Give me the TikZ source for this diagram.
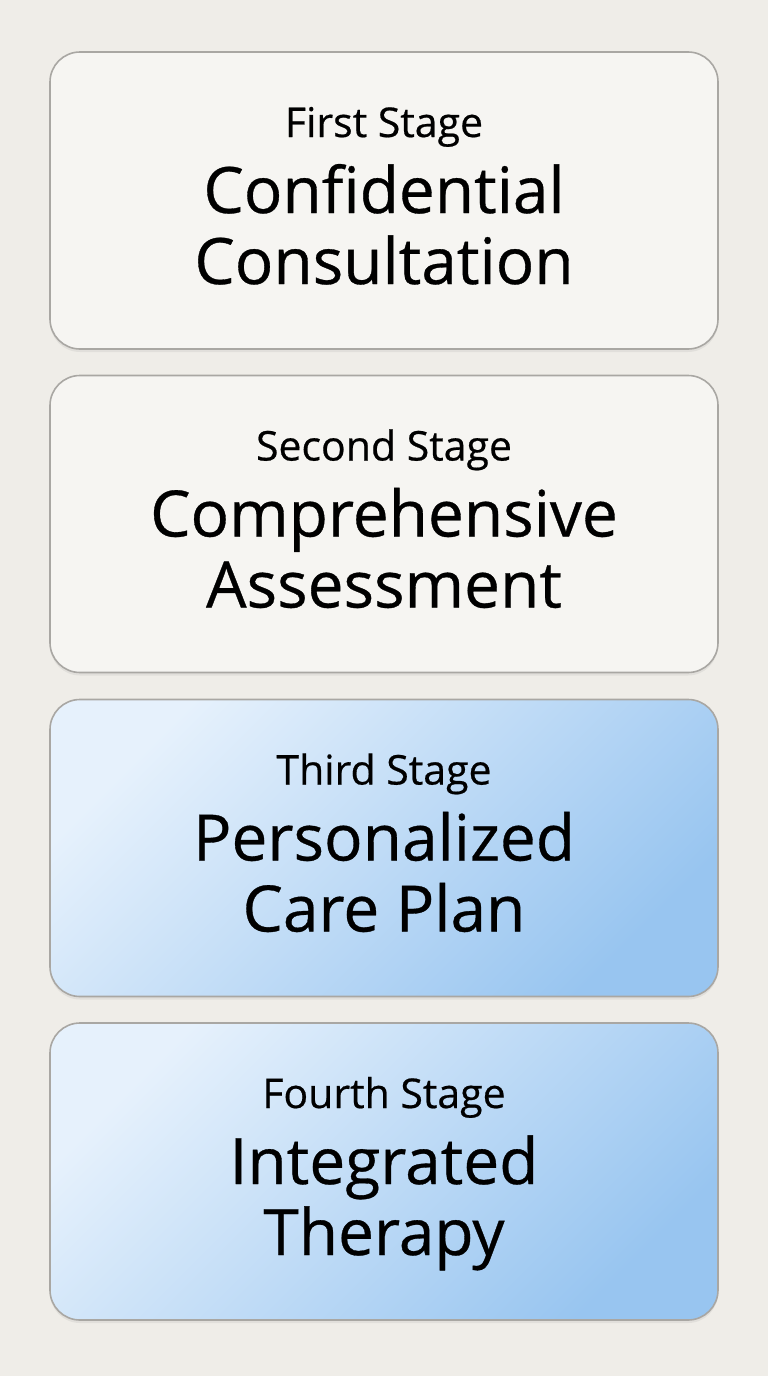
\documentclass[tikz,border=0pt]{standalone}
\usepackage{fontspec}
\setmainfont{Open Sans}[FakeBold=0.5]
\usetikzlibrary{positioning}
\usetikzlibrary{shadows}

\definecolor{paper}{HTML}{EFEDE8}
\definecolor{cardfill}{HTML}{F6F5F2}
\definecolor{cardline}{HTML}{A9A7A3}
\definecolor{bluelight}{HTML}{E6F1FC}
\definecolor{bluedark}{HTML}{98C5F0}

\newcommand{\stagefont}{\fontsize{20.5}{24}\selectfont}
\newcommand{\namefont}{\fontsize{32}{35.5}\selectfont}

\tikzset{
	stagecard/.style = {draw = cardline, line width = 0.8pt, rounded corners = 15pt,
		minimum width = 334pt, minimum height = 148.5pt, align = center,
		font = \namefont, text height = 83.5pt, text depth = 0pt,
		drop shadow = {opacity = 0.12, shadow xshift = 0pt, shadow yshift = -1.5pt}},
	plaincard/.style = {stagecard, fill = cardfill},
	bluecard/.style = {stagecard, top color = bluelight, bottom color = bluedark, shading angle = 45}
}

\begin{document}
\begin{tikzpicture}[x = 1pt, y = 1pt]
							\fill [paper] (0, 0) rectangle (384, -688);
							\useasboundingbox (0, 0) rectangle (384, -688);
							\node [plaincard] (stage1) at (192, -100.25) {{\stagefont First Stage}\\[2.5pt]Confidential\\Consultation};
							\node [plaincard] (stage2) at (192, -262) {{\stagefont Second Stage}\\[2.5pt]Comprehensive\\Assessment};
							\node [bluecard] (stage3) at (192, -424) {{\stagefont Third Stage}\\[2.5pt]Personalized\\Care Plan};
							\node [bluecard] (stage4) at (192, -585.75) {{\stagefont Fourth Stage}\\[2.5pt]Integrated\\Therapy};
						\end{tikzpicture}
\end{document}
